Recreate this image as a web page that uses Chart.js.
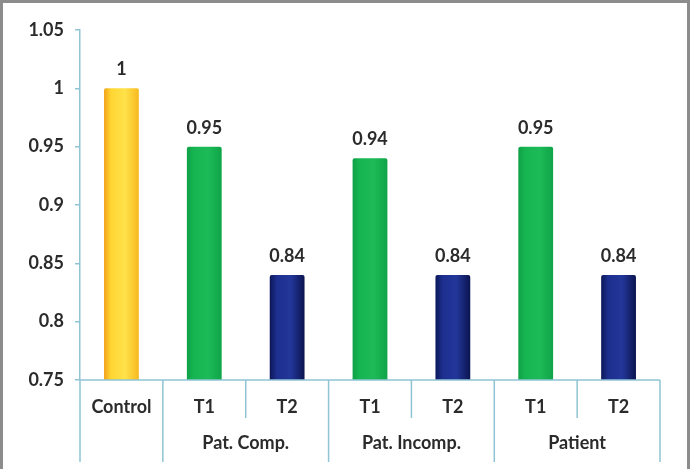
<!DOCTYPE html>
<html>
<head>
<meta charset="utf-8">
<script src="https://cdn.jsdelivr.net/npm/chart.js@4.4.1/dist/chart.umd.min.js"></script>
<style>
  html, body { margin: 0; padding: 0; background: #fff; }
  #wrap { position: relative; width: 690px; height: 469px; }
  #frame { position: absolute; left: 0; top: 0; width: 690px; height: 469px; box-sizing: border-box;
           border-top: 3px solid #8c8c8c; border-left: 3px solid #8c8c8c; border-right: 3px solid #8c8c8c;
           pointer-events: none; }
</style>
</head>
<body>
<div id="wrap">
  <canvas id="c" width="690" height="469"></canvas>
  <div id="frame"></div>
</div>
<script>
// ---- data ----
const categories = ['Control', 'T1', 'T2', 'T1', 'T2', 'T1', 'T2'];
const groups = [
  { label: 'Pat. Comp.', from: 1, to: 2 },
  { label: 'Pat. Incomp.', from: 3, to: 4 },
  { label: 'Patient', from: 5, to: 6 }
];
const values = [1, 0.95, 0.84, 0.94, 0.84, 0.95, 0.84];
const valueLabels = ['1', '0.95', '0.84', '0.94', '0.84', '0.95', '0.84'];
const barKinds = ['control', 'T1', 'T2', 'T1', 'T2', 'T1', 'T2'];
const yMin = 0.75, yMax = 1.05, yStep = 0.05;

const FONT = 'Lato, "Open Sans", sans-serif';
const FSIZE = 18;
const TEXT = '#2b2b2b';
const AXIS = '#8fc4d4';
const BAR_PCT = 0.42;

const palettes = {
  control: ['#f2a21c', '#ffd633', '#ffe24a', '#f7b91f'],
  T1: ['#0ea146', '#16b552', '#1dbb57', '#0fa448'],
  T2: ['#0c1758', '#1d2f8e', '#23379a', '#0b1450']
};

function barFill(ctx) {
  const chart = ctx.chart;
  const p = palettes[barKinds[ctx.dataIndex]];
  const xs = chart.scales && chart.scales.x;
  if (!xs || !chart.chartArea) return p[1];
  const cx = xs.getPixelForValue(ctx.dataIndex);
  const w = (xs.getPixelForValue(1) - xs.getPixelForValue(0)) * BAR_PCT;
  if (!isFinite(cx) || !isFinite(w) || w <= 0) return p[1];
  const g = chart.ctx.createLinearGradient(cx - w / 2, 0, cx + w / 2, 0);
  g.addColorStop(0, p[0]);
  g.addColorStop(0.2, p[1]);
  g.addColorStop(0.6, p[2]);
  g.addColorStop(1, p[3]);
  return g;
}

const overlay = {
  id: 'overlay',
  afterDraw(chart) {
    const ctx = chart.ctx;
    const x = chart.scales.x;
    const area = chart.chartArea;
    const n = categories.length;
    const half = (x.getPixelForValue(1) - x.getPixelForValue(0)) / 2;
    const bottom = area.bottom;
    ctx.save();
    ctx.strokeStyle = AXIS;
    ctx.lineWidth = 1.5;
    const boundaries = [];
    for (let i = 0; i <= n; i++) boundaries.push(x.getPixelForValue(0) - half + i * 2 * half);
    const groupEdges = new Set([0, 1]);
    groups.forEach(g => groupEdges.add(g.to + 1));
    boundaries.forEach((bx, i) => {
      const len = groupEdges.has(i) ? 82 : 38;
      ctx.beginPath();
      ctx.moveTo(bx, bottom);
      ctx.lineTo(bx, bottom + len);
      ctx.stroke();
    });
    ctx.beginPath();
    ctx.moveTo(boundaries[0], bottom);
    ctx.lineTo(boundaries[n], bottom);
    ctx.stroke();
    ctx.fillStyle = TEXT;
    ctx.font = 'bold ' + FSIZE + 'px ' + FONT;
    ctx.textAlign = 'center';
    ctx.textBaseline = 'middle';
    categories.forEach((c, i) => ctx.fillText(c, x.getPixelForValue(i), bottom + 27));
    groups.forEach(g => {
      const cx = (x.getPixelForValue(g.from) + x.getPixelForValue(g.to)) / 2;
      ctx.fillText(g.label, cx, bottom + 63);
    });
    const meta = chart.getDatasetMeta(0);
    ctx.textBaseline = 'alphabetic';
    meta.data.forEach((el, i) => {
      ctx.fillText(valueLabels[i], el.x, el.y - 13);
    });
    ctx.restore();
  }
};

new Chart(document.getElementById('c'), {
  type: 'bar',
  data: {
    labels: categories,
    datasets: [{
      data: values,
      backgroundColor: barFill,
      borderWidth: 0,
      borderSkipped: 'bottom',
      borderRadius: { topLeft: 2, topRight: 2 },
      barPercentage: BAR_PCT,
      categoryPercentage: 1
    }]
  },
  options: {
    responsive: false,
    animation: false,
    events: [],
    layout: { padding: { top: 30, right: 30, bottom: 0, left: 0 } },
    plugins: { legend: { display: false }, tooltip: { enabled: false } },
    scales: {
      x: {
        offset: true,
        grid: { display: false, drawTicks: false },
        border: { display: false },
        ticks: { display: false },
        afterFit(s) { s.height = 89; }
      },
      y: {
        min: yMin, max: yMax,
        grid: { drawOnChartArea: false, color: AXIS, tickLength: 5, lineWidth: 1.5 },
        border: { display: true, color: AXIS, width: 1.5 },
        ticks: {
          stepSize: yStep,
          color: TEXT,
          padding: 11,
          font: { family: FONT, size: FSIZE, weight: 'bold' },
          callback: v => String(Number(v.toFixed(2)))
        },
        afterFit(s) { s.width = 80; }
      }
    }
  },
  plugins: [overlay]
});
</script>
</body>
</html>
